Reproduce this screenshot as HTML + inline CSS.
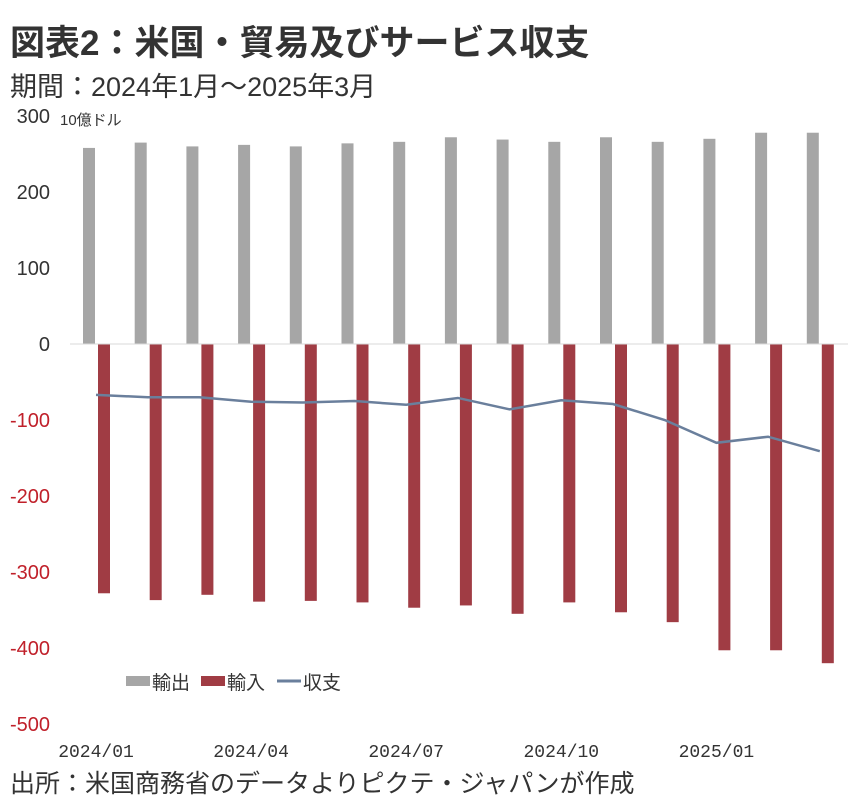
<!DOCTYPE html>
<html><head><meta charset="utf-8"><style>
body{margin:0;background:#fff;width:865px;height:810px;overflow:hidden;font-family:"Liberation Sans","Noto Sans CJK JP",sans-serif;color:#333}
.t{position:absolute;white-space:nowrap}
</style></head><body>
<div class="t" style="left:10px;top:15px;font-size:35px;font-weight:bold;color:#333;letter-spacing:0px">図表2：米国・貿易及びサービス収支</div>
<div class="t" style="left:10px;top:65px;font-size:27px">期間：2024年1月～2025年3月</div>
<div class="t" style="left:10px;top:764px;font-size:25px">出所：米国商務省のデータよりピクテ・ジャパンが作成</div>
<svg id="c" width="865" height="810" style="position:absolute;left:0;top:0"></svg>
<script>
const categories=["2024/01","2024/02","2024/03","2024/04","2024/05","2024/06","2024/07","2024/08","2024/09","2024/10","2024/11","2024/12","2025/01","2025/02","2025/03"];
const exportsV=[258,265,260,262,260,264,266,272,269,266,272,266,270,278,278];
const importsV=[-328,-337,-330,-339,-338,-340,-347,-344,-355,-340,-353,-366,-403,-403,-420];
const balanceV=[-67,-70,-70,-76,-77,-75,-80,-71,-86,-74,-79,-100,-130,-122,-141];
const yTicks=[300,200,100,0,-100,-200,-300,-400,-500];
const xLabelIdx=[0,3,6,9,12];
const svg=document.getElementById('c');const NS='http://www.w3.org/2000/svg';
function y(v){return 344-v*0.76;}
function x(i){return 96+i*51.7;}
function el(t,a,p){const e=document.createElementNS(NS,t);for(const k in a)e.setAttribute(k,a[k]);(p||svg).appendChild(e);return e;}
yTicks.forEach(v=>{const e=el('text',{x:50,y:y(v)+7,'text-anchor':'end','font-size':20,fill:v<0?'#c0202a':'#333','font-family':'Liberation Sans, sans-serif'});e.textContent=v;

});
const u=el('text',{x:60,y:125,'font-size':15,fill:'#333'});u.textContent='10億ドル';


exportsV.forEach((v,i)=>{const r=el('rect',{x:x(i)-13,y:y(v),width:12,height:y(0)-y(v),fill:'#a6a6a6'});

});
importsV.forEach((v,i)=>{const r=el('rect',{x:x(i)+2,y:y(0),width:12,height:y(v)-y(0),fill:'#a03c44'});

});
const ax=el('line',{x1:70,x2:848,y1:y(0),y2:y(0),stroke:'#d9d9d9','stroke-width':1});


const pl=el('polyline',{points:balanceV.map((v,i)=>x(i)+','+y(v)).join(' '),fill:'none',stroke:'#6a7f9c','stroke-width':2.5});


xLabelIdx.forEach(i=>{const e=el('text',{x:x(i),y:757,'text-anchor':'middle','font-size':18,fill:'#333','font-family':'Liberation Mono, monospace'});e.textContent=categories[i];

});
const lg=el('g',{});


[['#a6a6a6','輸出',126,'r'],['#a03c44','輸入',201,'r'],['#6a7f9c','収支',277,'l']].forEach(d=>{
 if(d[3]=='r')el('rect',{x:d[2],y:676,width:24,height:10,fill:d[0]},lg);else el('line',{x1:d[2],x2:d[2]+24,y1:681,y2:681,stroke:d[0],'stroke-width':3},lg);
 const t=el('text',{x:d[2]+26,y:689,'font-size':19,fill:'#333'},lg);t.textContent=d[1];
 
 
});
</script>
</body></html>
